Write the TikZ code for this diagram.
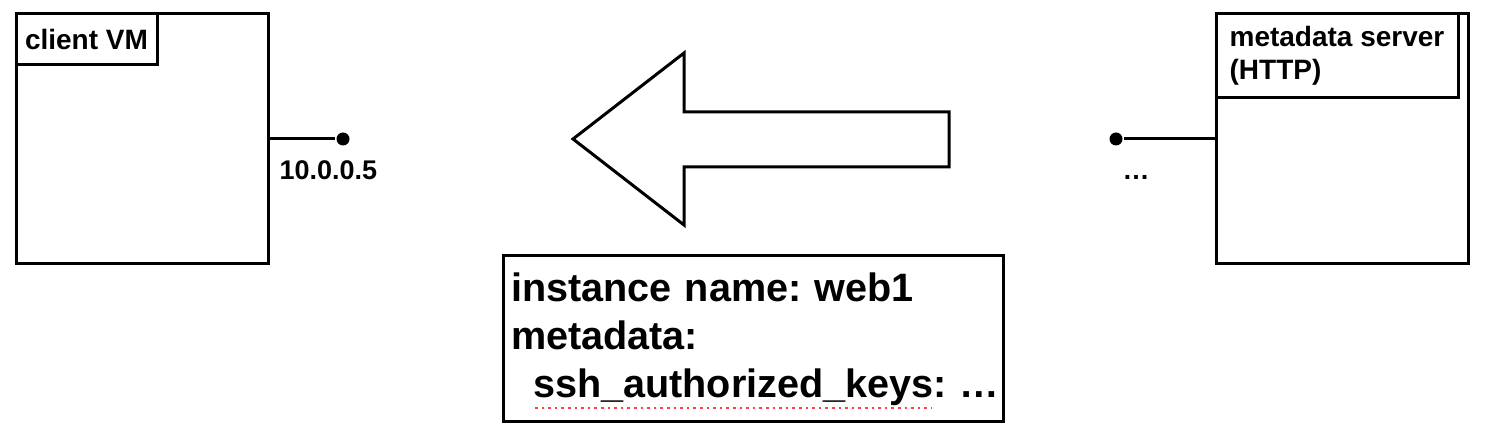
\documentclass[tikz,border=0pt]{standalone}
\usepackage{fontspec}
\setmainfont{Liberation Sans}
\usetikzlibrary{positioning}

\begin{document}
\frenchspacing
\begin{tikzpicture}[
  x=0.5pt, y=-0.5pt,
  line width=1.5pt,
  font=\bfseries\fontsize{13.5}{16.5}\selectfont,
  vmbox/.style={
    draw, minimum width=126pt,
    minimum height=125pt, inner sep=0pt
  },
  tag/.style={
    draw, anchor=north west, align=left,
    inner sep=0pt,
    font=\bfseries\fontsize{14}{16.5}\selectfont
  },
  port/.style={
    circle, fill, inner sep=0pt,
    minimum size=6.5pt
  },
  label/.style={
    anchor=west, inner sep=0pt},
  info/.style={
    draw, text width=242pt, inner xsep=4pt,
    minimum height=83pt, align=left,
    font=\bfseries\fontsize{19.8}{24}\selectfont
  },
  spell/.style={
    red!75, dotted, line width=1.3pt}
]

\useasboundingbox (0,0) rectangle (1486,442);

\node[vmbox] (client) at (142,139) {};
\node[tag, minimum width=70.5pt,
      minimum height=25.5pt] (clienttag)
  at (client.north west) {client VM};
\node[port] (clientport) at (343,139) {};
\node[label] (ip) at (278,170) {10.0.0.5};

\node[vmbox] (server) at (1342,139) {};
\node[tag, minimum width=121pt,
      minimum height=42pt] (servertag)
  at (server.north west)
  {metadata server\\(HTTP)};
\node[port] (serverport) at (1116,139) {};
\node[label] (addr) at (1121,177) {…};

\draw (client) -- (clientport);
\draw (serverport) -- (server);

% big hollow arrow
\draw[line join=miter] (573,139) -- (684,53) -- (684,112)
  -- (949,112) -- (949,167) -- (684,167)
  -- (684,225) -- cycle;

\node[info] (meta) at (753,339)
  {instance name: web1\\
   metadata:\\
   \hspace*{11pt}ssh\_authorized\_keys:~…};
\draw[spell] (535,408) -- (932,408);

\end{tikzpicture}
\end{document}
